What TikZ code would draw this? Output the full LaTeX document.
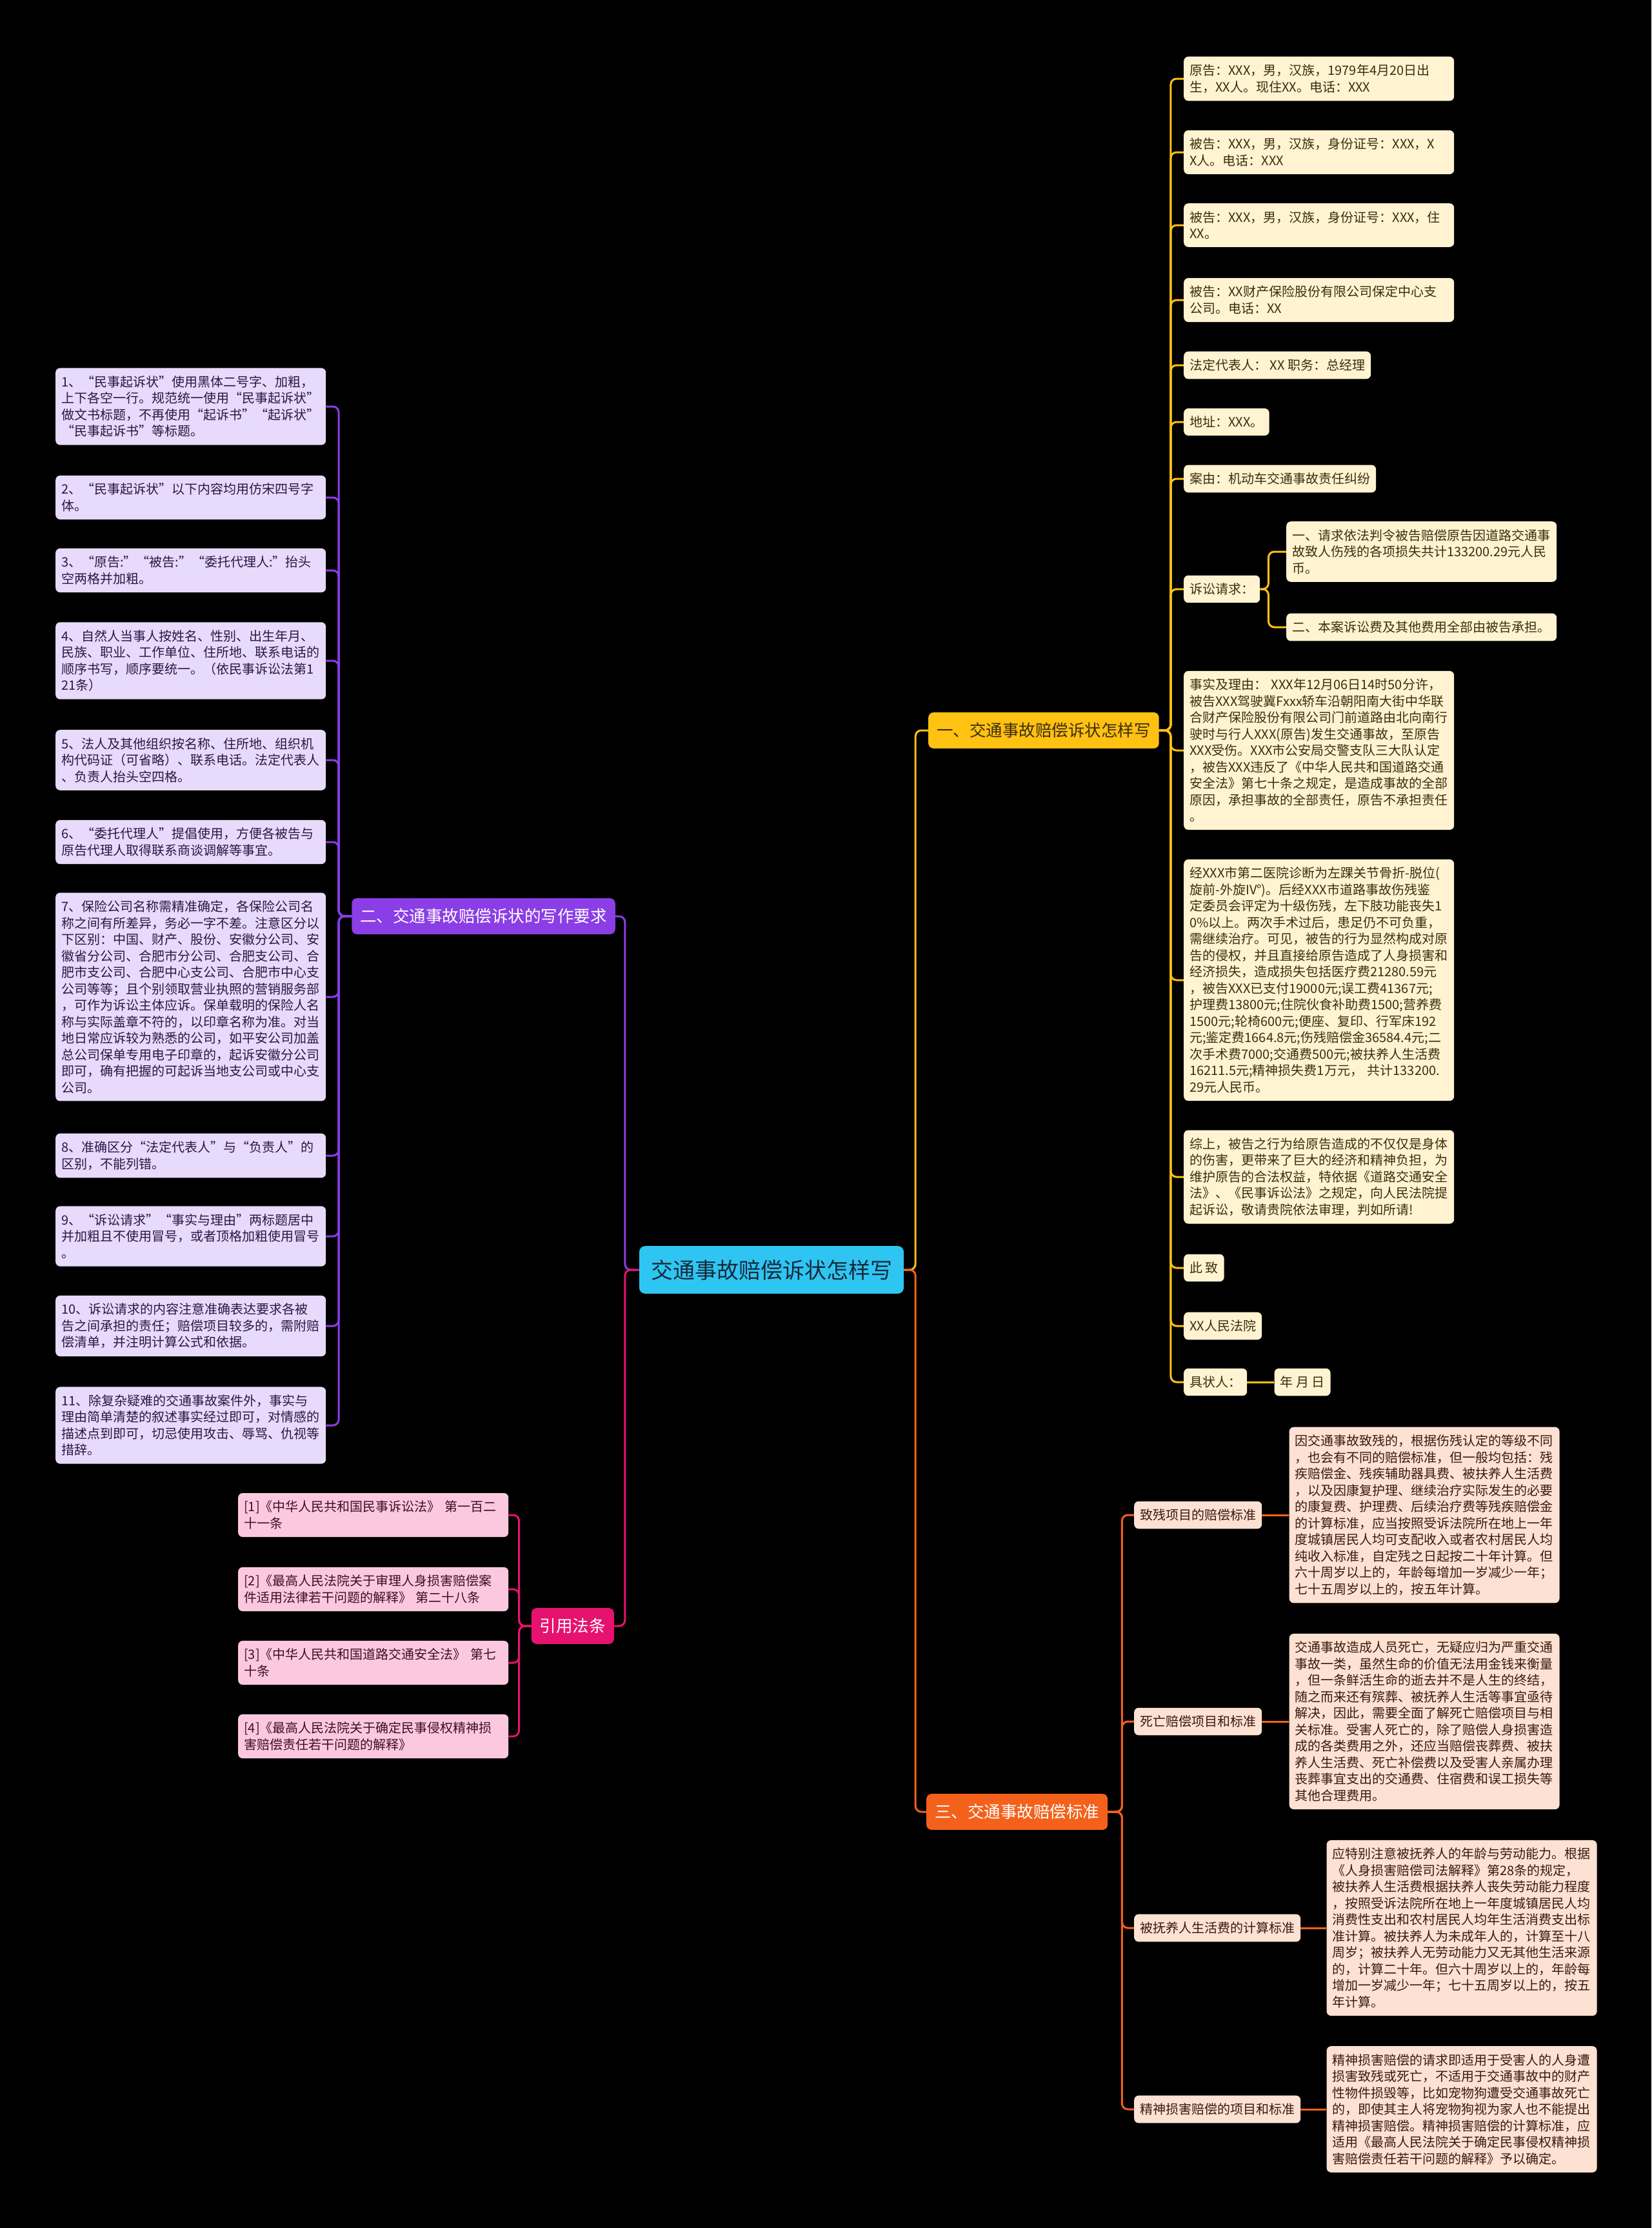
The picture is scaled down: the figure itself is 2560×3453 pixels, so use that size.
\documentclass[tikz,border=0pt]{standalone}
\usepackage{fontspec}
\setmainfont{Noto Sans CJK SC}
\usepackage{xcolor}
\usepackage{tikz}
\usetikzlibrary{positioning}
\definecolor{rootblue}{HTML}{2EC5F2}
\definecolor{rootink}{HTML}{17293A}
\definecolor{secgold}{HTML}{FFC112}
\definecolor{seccream}{HTML}{FFF3D2}
\definecolor{goldink}{HTML}{3B2E0C}
\definecolor{secviolet}{HTML}{8B3DE6}
\definecolor{seclilac}{HTML}{E7DAFA}
\definecolor{violetink}{HTML}{2A1746}
\definecolor{secflame}{HTML}{F4611B}
\definecolor{secpeach}{HTML}{FDE1D2}
\definecolor{flameink}{HTML}{3A1A0C}
\definecolor{secrose}{HTML}{E61270}
\definecolor{secblush}{HTML}{FCC8E0}
\definecolor{roseink}{HTML}{3C0F22}

\begin{document}
\begin{tikzpicture}[
x=1pt,y=-1pt,
every node/.style={font=\fontsize{20}{25.5}\selectfont},
root/.style={fill=rootblue,text=rootink,rounded corners=9pt,inner xsep=18pt,inner ysep=21pt,font=\fontsize{34}{40}\selectfont},
topic/.style={rounded corners=8pt,inner xsep=13pt,inner ysep=16pt,font=\fontsize{25.5}{30}\selectfont},
leaf/.style={rounded corners=7pt,inner xsep=9pt,inner ysep=12pt,align=left},
note/.style={leaf,text width=401pt},
yleaf/.style={leaf,fill=seccream,text=goldink},
ynote/.style={note,fill=seccream,text=goldink},
vnote/.style={note,fill=seclilac,text=violetink},
oleaf/.style={leaf,fill=secpeach,text=flameink},
onote/.style={note,fill=secpeach,text=flameink},
knote/.style={note,fill=secblush,text=roseink},
link/.style={line width=3pt,rounded corners=9pt},
ylink/.style={link,draw=secgold},
vlink/.style={link,draw=secviolet},
olink/.style={link,draw=secflame},
klink/.style={link,draw=secrose}
]
\fill[black] (0,0) rectangle (2560,3453);
\useasboundingbox (0,0) rectangle (2560,3453);

\node[root] (root) at (1196,1968) {交通事故赔偿诉状怎样写};
\node[topic,fill=secgold,text=goldink,anchor=west] (t1) at (1439,1132) {一、交通事故赔偿诉状怎样写};
\node[topic,fill=secviolet,text=white,anchor=east] (t2) at (954,1420) {二、交通事故赔偿诉状的写作要求};
\node[topic,fill=secflame,text=white,anchor=west] (t3) at (1436,2808) {三、交通事故赔偿标准};
\node[topic,fill=secrose,text=white,anchor=east] (t4) at (952,2520) {引用法条};

\node[ynote,anchor=west] (y1) at (1835,122) {原告：XXX，男，汉族，1979年4月20日出\\生，XX人。现住XX。电话：XXX};
\node[ynote,anchor=west] (y2) at (1835,236) {被告：XXX，男，汉族，身份证号：XXX，X\\X人。电话：XXX};
\node[ynote,anchor=west] (y3) at (1835,349) {被告：XXX，男，汉族，身份证号：XXX，住\\XX。};
\node[ynote,anchor=west] (y4) at (1835,465) {被告：XX财产保险股份有限公司保定中心支\\公司。电话：XX};
\node[yleaf,anchor=west] (y5) at (1835,566) {法定代表人： XX 职务：总经理};
\node[yleaf,anchor=west] (y6) at (1835,654) {地址：XXX。};
\node[yleaf,anchor=west] (y7) at (1835,742) {案由：机动车交通事故责任纠纷};
\node[yleaf,anchor=west] (y8) at (1835,913) {诉讼请求：};
\node[ynote,anchor=west] (y8a) at (1994,855) {一、请求依法判令被告赔偿原告因道路交通事\\故致人伤残的各项损失共计133200.29元人民\\币。};
\node[ynote,anchor=west] (y8b) at (1994,972) {二、本案诉讼费及其他费用全部由被告承担。};
\node[ynote,anchor=west] (y9) at (1835,1163) {事实及理由：~XXX年12月06日14时50分许，\\被告XXX驾驶冀Fxxx轿车沿朝阳南大街中华联\\合财产保险股份有限公司门前道路由北向南行\\驶时与行人XXX(原告)发生交通事故，至原告\\XXX受伤。XXX市公安局交警支队三大队认定\\，被告XXX违反了《中华人民共和国道路交通\\安全法》第七十条之规定，是造成事故的全部\\原因，承担事故的全部责任，原告不承担责任\\。};
\node[ynote,anchor=west] (y10) at (1835,1519) {经XXX市第二医院诊断为左踝关节骨折-脱位(\\旋前-外旋IV°)。后经XXX市道路事故伤残鉴\\定委员会评定为十级伤残，左下肢功能丧失1\\0\%以上。两次手术过后，患足仍不可负重，\\需继续治疗。可见，被告的行为显然构成对原\\告的侵权，并且直接给原告造成了人身损害和\\经济损失，造成损失包括医疗费21280.59元\\，被告XXX已支付19000元;误工费41367元;\\护理费13800元;住院伙食补助费1500;营养费\\1500元;轮椅600元;便座、复印、行军床192\\元;鉴定费1664.8元;伤残赔偿金36584.4元;二\\次手术费7000;交通费500元;被扶养人生活费\\16211.5元;精神损失费1万元，~共计133200.\\29元人民币。};
\node[ynote,anchor=west] (y11) at (1835,1824) {综上，被告之行为给原告造成的不仅仅是身体\\的伤害，更带来了巨大的经济和精神负担，为\\维护原告的合法权益，特依据《道路交通安全\\法》、《民事诉讼法》之规定，向人民法院提\\起诉讼，敬请贵院依法审理，判如所请!};
\node[yleaf,anchor=west] (y12) at (1835,1965) {此 致};
\node[yleaf,anchor=west] (y13) at (1835,2055) {XX人民法院};
\node[yleaf,anchor=west] (y14) at (1835,2142) {具状人：};
\node[yleaf,right=42pt of y14] (y14a) {年 月 日};

\node[vnote,anchor=west] (p1) at (86,630) {1、“民事起诉状”使用黑体二号字、加粗，\\上下各空一行。规范统一使用“民事起诉状”\\做文书标题，不再使用“起诉书”“起诉状”\\“民事起诉书”等标题。};
\node[vnote,anchor=west] (p2) at (86,771) {2、“民事起诉状”以下内容均用仿宋四号字\\体。};
\node[vnote,anchor=west] (p3) at (86,884) {3、“原告:”“被告:”“委托代理人:”抬头\\空两格并加粗。};
\node[vnote,anchor=west] (p4) at (86,1024) {4、自然人当事人按姓名、性别、出生年月、\\民族、职业、工作单位、住所地、联系电话的\\顺序书写，顺序要统一。（依民事诉讼法第1\\21条）};
\node[vnote,anchor=west] (p5) at (86,1178) {5、法人及其他组织按名称、住所地、组织机\\构代码证（可省略）、联系电话。法定代表人\\、负责人抬头空四格。};
\node[vnote,anchor=west] (p6) at (86,1305) {6、“委托代理人”提倡使用，方便各被告与\\原告代理人取得联系商谈调解等事宜。};
\node[vnote,anchor=west] (p7) at (86,1545) {7、保险公司名称需精准确定，各保险公司名\\称之间有所差异，务必一字不差。注意区分以\\下区别：中国、财产、股份、安徽分公司、安\\徽省分公司、合肥市分公司、合肥支公司、合\\肥市支公司、合肥中心支公司、合肥市中心支\\公司等等；且个别领取营业执照的营销服务部\\，可作为诉讼主体应诉。保单载明的保险人名\\称与实际盖章不符的，以印章名称为准。对当\\地日常应诉较为熟悉的公司，如平安公司加盖\\总公司保单专用电子印章的，起诉安徽分公司\\即可，确有把握的可起诉当地支公司或中心支\\公司。};
\node[vnote,anchor=west] (p8) at (86,1791) {8、准确区分“法定代表人”与“负责人”的\\区别，不能列错。};
\node[vnote,anchor=west] (p9) at (86,1916) {9、“诉讼请求”“事实与理由”两标题居中\\并加粗且不使用冒号，或者顶格加粗使用冒号\\。};
\node[vnote,anchor=west] (p10) at (86,2055) {10、诉讼请求的内容注意准确表达要求各被\\告之间承担的责任；赔偿项目较多的，需附赔\\偿清单，并注明计算公式和依据。};
\node[vnote,anchor=west] (p11) at (86,2209) {11、除复杂疑难的交通事故案件外，事实与\\理由简单清楚的叙述事实经过即可，对情感的\\描述点到即可，切忌使用攻击、辱骂、仇视等\\措辞。};

\node[knote,anchor=west] (k1) at (369,2348) {[1]《中华人民共和国民事诉讼法》~第一百二\\十一条};
\node[knote,anchor=west] (k2) at (369,2463) {[2]《最高人民法院关于审理人身损害赔偿案\\件适用法律若干问题的解释》~第二十八条};
\node[knote,anchor=west] (k3) at (369,2577) {[3]《中华人民共和国道路交通安全法》~第七\\十条};
\node[knote,anchor=west] (k4) at (369,2691) {[4]《最高人民法院关于确定民事侵权精神损\\害赔偿责任若干问题的解释》};

\node[oleaf,anchor=west] (o1) at (1758,2348) {致残项目的赔偿标准};
\node[onote,right=42pt of o1] (o1a) {因交通事故致残的，根据伤残认定的等级不同\\，也会有不同的赔偿标准，但一般均包括：残\\疾赔偿金、残疾辅助器具费、被扶养人生活费\\，以及因康复护理、继续治疗实际发生的必要\\的康复费、护理费、后续治疗费等残疾赔偿金\\的计算标准，应当按照受诉法院所在地上一年\\度城镇居民人均可支配收入或者农村居民人均\\纯收入标准，自定残之日起按二十年计算。但\\六十周岁以上的，年龄每增加一岁减少一年；\\七十五周岁以上的，按五年计算。};
\node[oleaf,anchor=west] (o2) at (1758,2668) {死亡赔偿项目和标准};
\node[onote,right=42pt of o2] (o2a) {交通事故造成人员死亡，无疑应归为严重交通\\事故一类，虽然生命的价值无法用金钱来衡量\\，但一条鲜活生命的逝去并不是人生的终结，\\随之而来还有殡葬、被抚养人生活等事宜亟待\\解决，因此，需要全面了解死亡赔偿项目与相\\关标准。受害人死亡的，除了赔偿人身损害造\\成的各类费用之外，还应当赔偿丧葬费、被扶\\养人生活费、死亡补偿费以及受害人亲属办理\\丧葬事宜支出的交通费、住宿费和误工损失等\\其他合理费用。};
\node[oleaf,anchor=west] (o3) at (1758,2988) {被抚养人生活费的计算标准};
\node[onote,right=40pt of o3] (o3a) {应特别注意被抚养人的年龄与劳动能力。根据\\《人身损害赔偿司法解释》第28条的规定，\\被扶养人生活费根据扶养人丧失劳动能力程度\\，按照受诉法院所在地上一年度城镇居民人均\\消费性支出和农村居民人均年生活消费支出标\\准计算。被扶养人为未成年人的，计算至十八\\周岁；被扶养人无劳动能力又无其他生活来源\\的，计算二十年。但六十周岁以上的，年龄每\\增加一岁减少一年；七十五周岁以上的，按五\\年计算。};
\node[oleaf,anchor=west] (o4) at (1758,3269) {精神损害赔偿的项目和标准};
\node[onote,right=40pt of o4] (o4a) {精神损害赔偿的请求即适用于受害人的人身遭\\损害致残或死亡，不适用于交通事故中的财产\\性物件损毁等，比如宠物狗遭受交通事故死亡\\的，即使其主人将宠物狗视为家人也不能提出\\精神损害赔偿。精神损害赔偿的计算标准，应\\适用《最高人民法院关于确定民事侵权精神损\\害赔偿责任若干问题的解释》予以确定。};

\draw[ylink] (root.east) -- ++(18,0) |- (t1.west);
\draw[olink] (root.east) -- ++(18,0) |- (t3.west);
\draw[vlink] (root.west) -- ++(-22,0) |- (t2.east);
\draw[klink] (root.west) -- ++(-22,0) |- (t4.east);
\foreach \n in {y1,y2,y3,y4,y5,y6,y7,y8,y9,y10,y11,y12,y13,y14}
  \draw[ylink] (t1.east) -- ++(18,0) |- (\n.west);
\draw[ylink] (y8.east) -- ++(13,0) |- (y8a.west);
\draw[ylink] (y8.east) -- ++(13,0) |- (y8b.west);
\draw[ylink] (y14) -- (y14a);
\foreach \n in {p1,p2,p3,p4,p5,p6,p7,p8,p9,p10,p11}
  \draw[vlink] (t2.west) -- ++(-20,0) |- (\n.east);
\foreach \n in {k1,k2,k3,k4}
  \draw[klink] (t4.west) -- ++(-19,0) |- (\n.east);
\foreach \n in {o1,o2,o3,o4}{
  \draw[olink] (t3.east) -- ++(22,0) |- (\n.west);
  \draw[olink] (\n) -- (\n a);
}
\end{tikzpicture}
\end{document}
